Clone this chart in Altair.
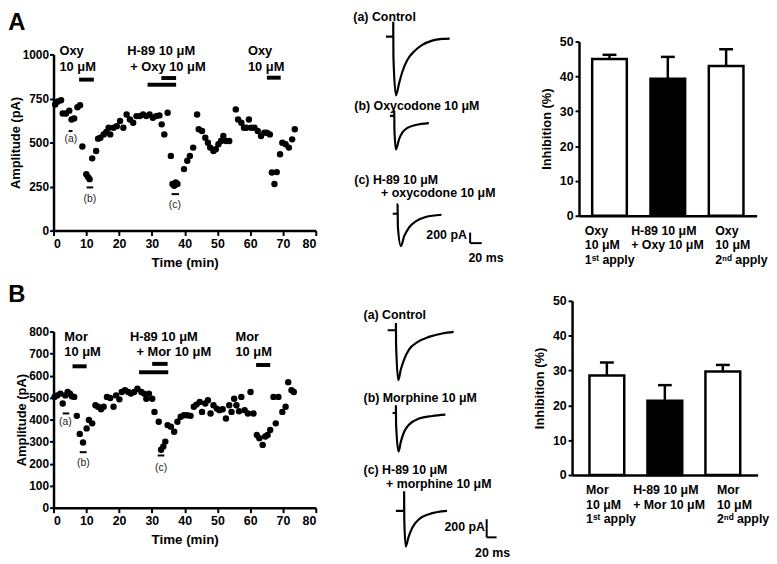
import altair as alt
import pandas as pd

FONT = "Liberation Sans"
W, H = 769, 556

# ---------------- Panel A: time course (oxycodone) ----------------
a_time = [0.5, 1.3, 2.3, 2.8, 3.8, 4.8, 5.5, 6.3, 7.3, 8.1, 8.8, 10.0, 10.5, 11.0, 11.8,
          13.0, 13.6, 14.3, 15.3, 16.1, 16.8, 17.3, 18.3, 19.3, 20.3, 21.3, 22.3, 23.3,
          24.3, 25.3, 26.3, 27.3, 28.3, 29.3, 30.3, 31.3, 32.3, 33.0, 33.8, 34.8, 35.8,
          36.3, 36.8, 37.3, 37.8, 39.8, 40.8, 41.6, 42.6, 43.8, 44.3, 45.3, 46.3, 47.1,
          47.8, 48.8, 49.5, 50.3, 51.1, 51.8, 52.6, 53.6, 55.6, 56.3, 57.3, 58.1, 58.8,
          59.6, 60.3, 61.3, 62.3, 63.3, 64.3, 65.1, 66.0, 66.6, 67.4, 68.1, 69.1, 69.8,
          70.8, 71.8, 72.8, 73.6]
a_amp = [716, 733, 740, 665, 665, 680, 631, 637, 700, 712, 477, 320, 305, 292, 410,
         452, 522, 527, 546, 560, 584, 546, 584, 593, 622, 584, 659, 631,
         612, 650, 650, 659, 650, 659, 640, 650, 654, 603, 546, 669, 424,
         264, 254, 273, 264, 349, 396, 424, 471, 659, 575, 565, 527, 499,
         471, 452, 462, 490, 509, 537, 509, 509, 688, 631, 612, 584, 584,
         631, 584, 584, 565, 537, 556, 556, 546, 330, 264, 332, 433, 499,
         490, 471, 518, 575]
a_note_text = ["Oxy", "10 μM", "H-89 10 μM", "+ Oxy 10 μM", "Oxy", "10 μM"]
a_note_t = [1.8, 1.8, 22.5, 23.4, 59.3, 59.3]
a_note_amp = [1017, 927, 1017, 927, 1017, 927]
a_app_start = [7.8, 28.7, 32.9, 65.1]
a_app_end = [12.3, 37.4, 37.4, 69.3]
a_app_amp = [857, 828, 866, 868]
a_smp_text = ["(a)", "(b)", "(c)"]
a_smp_start = [4.6, 10.1, 36.0]
a_smp_end = [5.8, 12.1, 38.3]
a_smp_amp = [565, 245, 207]
a_smp_label_t = [5.3, 11.1, 37.0]
a_smp_label_amp = [518, 179, 147]

# ---------------- Panel B: time course (morphine) ----------------
b_time = [0.3, 1.1, 2.1, 2.8, 3.6, 4.3, 5.0, 5.6, 6.3, 7.1, 8.0, 9.0, 10.1, 10.8, 11.8,
          12.8, 13.6, 14.5, 15.3, 16.3, 17.3, 18.3, 19.1, 20.1, 20.8, 21.8, 22.8, 23.6,
          24.6, 25.6, 26.8, 27.6, 28.3, 29.1, 30.1, 30.8, 32.1, 32.8, 33.5, 34.1, 34.8,
          35.8, 36.8, 37.8, 38.8, 39.8, 40.8, 41.8, 42.8, 43.6, 44.6, 45.3, 46.3, 47.1,
          47.9, 48.8, 49.8, 50.6, 51.6, 52.6, 53.6, 54.3, 55.1, 55.8, 56.6, 57.3, 58.3,
          59.3, 60.1, 61.0, 62.0, 62.8, 63.8, 64.6, 65.3, 66.1, 67.1, 67.8, 68.6, 69.8,
          70.8, 71.6, 72.6, 73.3]
b_amp = [503, 510, 518, 473, 510, 525, 518, 506, 503, 417, 335, 296, 360, 398, 383,
         465, 458, 447, 458, 503, 498, 458, 510, 492, 525, 533, 525, 518,
         525, 540, 525, 518, 495, 518, 495, 435, 390, 263, 278, 300, 375,
         368, 345, 390, 413, 420, 420, 417, 458, 468, 480, 435, 473, 488,
         428, 465, 450, 443, 447, 405, 465, 435, 495, 465, 438, 503, 443,
         428, 525, 428, 330, 315, 285, 323, 330, 353, 503, 383, 503, 435,
         458, 570, 533, 525]
b_note_text = ["Mor", "10 μM", "H-89 10 μM", "+ Mor 10 μM", "Mor", "10 μM"]
b_note_t = [3.3, 3.3, 23.3, 25.3, 55.5, 55.5]
b_note_amp = [777, 708, 777, 708, 777, 708]
b_app_start = [5.8, 26.1, 30.1, 61.8]
b_app_end = [10.1, 35.0, 34.8, 66.1]
b_app_amp = [642, 615, 653, 648]
b_smp_text = ["(a)", "(b)", "(c)"]
b_smp_start = [2.8, 8.0, 31.8]
b_smp_end = [4.8, 10.1, 33.8]
b_smp_amp = [428, 252, 237]
b_smp_label_t = [3.6, 9.1, 32.8]
b_smp_label_amp = [387, 203, 180]

# ---------------- Example EPSC traces (ms, pA relative to baseline) ----------------
ta_a_ms = [-12.5, 0, 0, 0.3, 4.6, 10.3, 16.0, 24.5, 35.9, 50.1, 67.2, 84.3, 97.4]
ta_a_pa = [0, 0, 280, -380, -1109, -872, -654, -436, -280, -156, -75, -44, -37]
ta_b_ms = [-7.4, 0, 0, 0.3, 2.8, 8.5, 14.2, 22.8, 37.0, 59.8]
ta_b_pa = [0, 0, 93, -250, -636, -436, -312, -230, -174, -137]
ta_c_ms = [-8.5, 0, 0, 0.5, 5.7, 11.4, 19.9, 31.3, 48.4, 75.8]
ta_c_pa = [0, 0, 180, -250, -611, -424, -255, -143, -62, -19]

tb_a_ms = [-16.7, 0, 0, 0.3, 4.7, 10.0, 16.7, 26.7, 43.3, 66.7, 93.3, 116.7]
tb_a_pa = [0, 0, 80, -150, -549, -429, -320, -211, -131, -73, -36, -18]
tb_b_ms = [-6.7, 0, 0, 0.3, 5.3, 10.0, 16.7, 26.7, 46.7, 73.3, 100.0]
tb_b_pa = [0, 0, 84, -120, -425, -316, -207, -127, -62, -33, -18]
tb_c_ms = [-16.7, 0, 0, 0.3, 3.3, 8.7, 16.7, 30.0, 50.0, 86.7]
tb_c_pa = [0, 0, 218, -100, -393, -291, -182, -91, -36, 0]

ta_titles = [["(a) Control"], ["(b) Oxycodone 10 μM"], ["(c) H-89 10 μM", "+ oxycodone 10 μM"]]
ta_title_ms = [[-68.9], [-68.9], [-74.7, -28.5]]
ta_title_pa = [[374], [187], [640, 385]]
tb_titles = [["(a) Control"], ["(b) Morphine 10 μM"], ["(c) H-89 10 μM", "+ morphine 10 μM"]]
tb_title_ms = [[-65.4], [-65.4], [-82.0, -36.6]]
tb_title_pa = [[171], [164], [456, 300]]

bar_pa, bar_ms = 200, 20          # scale bar values
ta_sb_ms, ta_sb_pa = 125.3, -555
tb_sb_ms, tb_sb_pa = 166.8, -291
sb_text = ["200 pA", "20 ms"]
ta_sb_text_ms = [119.7, 122.4]
ta_sb_text_pa = [-405, -828]
tb_sb_text_ms = [163.4, 143.4]
tb_sb_text_pa = [-182, -466]

# ---------------- Bar charts ----------------
a_cats = ["Oxy|10 μM|1ˢᵗ apply", "H-89 10 μM|+ Oxy 10 μM", "Oxy|10 μM|2ⁿᵈ apply"]
a_inh = [45.0, 39.3, 43.0]
a_sem = [1.2, 6.3, 4.8]
b_cats = ["Mor|10 μM|1ˢᵗ apply", "H-89 10 μM|+ Mor 10 μM", "Mor|10 μM|2ⁿᵈ apply"]
b_inh = [28.6, 21.3, 29.7]
b_sem = [3.7, 4.5, 1.9]

# ---------------- layout (pixels in the single view) ----------------
LAY = {
    "scA": {"x": [46, 311], "y": [222, 44]},
    "scB": {"x": [46, 311], "y": [502, 324]},
    "barA": {"x": [577, 756.5], "y": [207, 31], "pi": 0.406, "po": 0.226,
             "off": [-25, -37, -11]},
    "barB": {"x": [570, 757.5], "y": [469, 293], "pi": 0.40, "po": 0.30,
             "off": [-21, -32, -6]},
    "trA": {"pms": 0.585, "ppa": 0.0535, "x0": [389.3, 390.3, 393.7], "base": [26, 106, 205]},
    "trB": {"pms": 0.5, "ppa": 0.0917, "x0": [392, 392, 400.3], "base": [322.7, 406.3, 505.3]},
}

BOLD = dict(font=FONT, fontWeight="bold")


def scatter_panel(lay, time, amp, ymax, ystep, note_text, note_t, note_amp,
                  app_s, app_e, app_amp, smp_text, smp_s, smp_e, smp_amp, smp_lt, smp_la,
                  letter, letter_amp):
    xs = alt.Scale(domain=[0, 80], range=lay["x"], nice=False, zero=False)
    ys = alt.Scale(domain=[0, ymax], range=lay["y"], nice=False, zero=False)
    xax = alt.Axis(
        orient="bottom", offset=lay["y"][0] - H, values=list(range(0, 81, 10)),
        title="Time (min)", titleFontSize=13.5, titlePadding=6, format="d",
        labelFontSize=12.5, tickSize=5, tickWidth=2, domainWidth=2.5, labelPadding=2)
    yax = alt.Axis(
        orient="left", offset=-lay["x"][0], values=list(range(0, ymax + 1, ystep)),
        title="Amplitude (pA)", titleFontSize=13, titlePadding=0, format="d",
        labelFontSize=12, tickSize=4, tickWidth=2, domainWidth=2.5, labelPadding=1)
    X = lambda f: alt.X(f, type="quantitative", scale=xs, axis=xax)
    Y = lambda f: alt.Y(f, type="quantitative", scale=ys, axis=yax)

    pts = alt.Chart(pd.DataFrame({"t": time, "amp": amp})).mark_circle(
        size=42, color="black", opacity=1
    ).encode(x=X("t"), y=Y("amp"))
    apps = alt.Chart(pd.DataFrame({"t": app_s, "t2": app_e, "amp": app_amp})).mark_rule(
        strokeWidth=4, color="black", strokeCap="butt"
    ).encode(x=X("t"), x2="t2", y=Y("amp"))
    notes = alt.Chart(pd.DataFrame({"t": note_t, "amp": note_amp, "label": note_text})).mark_text(
        align="left", baseline="middle", fontSize=13, color="black", **BOLD
    ).encode(x=X("t"), y=Y("amp"), text="label:N")
    smps = alt.Chart(pd.DataFrame({"t": smp_s, "t2": smp_e, "amp": smp_amp})).mark_rule(
        strokeWidth=2, color="black"
    ).encode(x=X("t"), x2="t2", y=Y("amp"))
    smp_lbl = alt.Chart(pd.DataFrame({"t": smp_lt, "amp": smp_la, "label": smp_text})).mark_text(
        align="center", baseline="middle", fontSize=10.5, color="#222", font=FONT
    ).encode(x=X("t"), y=Y("amp"), text="label:N")
    let = alt.Chart(pd.DataFrame({"t": [-13.8], "amp": [letter_amp], "label": [letter]})).mark_text(
        align="left", baseline="middle", fontSize=24, color="black", **BOLD
    ).encode(x=X("t"), y=Y("amp"), text="label:N")
    return alt.layer(pts, apps, notes, smps, smp_lbl, let)


def trace_panel(lay, i, ms, pa, titles, t_ms, t_pa, scalebar=None):
    pms, ppa = lay["pms"], lay["ppa"]
    x0, base = lay["x0"][i], lay["base"][i]
    xd, yd = [-100, 200], [-1500, 700]
    xs = alt.Scale(domain=xd, range=[x0 + xd[0] * pms, x0 + xd[1] * pms], nice=False, zero=False)
    ys = alt.Scale(domain=yd, range=[base - yd[0] * ppa, base - yd[1] * ppa], nice=False, zero=False)
    X = lambda f: alt.X(f, type="quantitative", scale=xs, axis=None)
    Y = lambda f: alt.Y(f, type="quantitative", scale=ys, axis=None)
    line = alt.Chart(pd.DataFrame({"ms": ms, "pA": pa, "i": list(range(len(ms)))})).mark_line(
        color="black", strokeWidth=2.2, interpolate="monotone"
    ).encode(x=X("ms"), y=Y("pA"), order="i:Q")
    txt = alt.Chart(pd.DataFrame({"ms": t_ms, "pA": t_pa, "label": titles})).mark_text(
        align="left", baseline="middle", fontSize=12.5, color="black", **BOLD
    ).encode(x=X("ms"), y=Y("pA"), text="label:N")
    layers = [line, txt]
    if scalebar is not None:
        sb_ms, sb_pa, sb_txt, sb_text_ms, sb_text_pa = scalebar
        vert = alt.Chart(pd.DataFrame({"ms": [sb_ms], "pA": [sb_pa], "pA2": [sb_pa + bar_pa]})).mark_rule(
            strokeWidth=2, color="black").encode(x=X("ms"), y=Y("pA"), y2="pA2")
        horiz = alt.Chart(pd.DataFrame({"ms": [sb_ms], "ms2": [sb_ms + bar_ms], "pA": [sb_pa]})).mark_rule(
            strokeWidth=2, color="black").encode(x=X("ms"), x2="ms2", y=Y("pA"))
        t1 = alt.Chart(pd.DataFrame({"ms": [sb_text_ms[0]], "pA": [sb_text_pa[0]], "label": [sb_txt[0]]})).mark_text(
            align="right", baseline="middle", fontSize=12.5, color="black", **BOLD
        ).encode(x=X("ms"), y=Y("pA"), text="label:N")
        t2 = alt.Chart(pd.DataFrame({"ms": [sb_text_ms[1]], "pA": [sb_text_pa[1]], "label": [sb_txt[1]]})).mark_text(
            align="left", baseline="middle", fontSize=12.5, color="black", **BOLD
        ).encode(x=X("ms"), y=Y("pA"), text="label:N")
        layers += [vert, horiz, t1, t2]
    return alt.layer(*layers)


def bar_panel(lay, cats, inh, sem):
    df = pd.DataFrame({"cat": cats, "inh": inh, "top": [v + s for v, s in zip(inh, sem)]})
    xs = alt.Scale(domain=cats, range=lay["x"], paddingInner=lay["pi"], paddingOuter=lay["po"])
    ys = alt.Scale(domain=[0, 50], range=lay["y"], nice=False, zero=True)
    cond = [{"test": f"datum.value === '{c}'", "value": o} for c, o in zip(cats[1:], lay["off"][1:])]
    xax = alt.Axis(
        orient="bottom", offset=lay["y"][0] - H, title=None, ticks=False,
        labelExpr="split(datum.label, '|')", labelAngle=0, labelAlign="left",
        labelBaseline="top", labelPadding=9, labelLineHeight=14.5, labelFontSize=12.5,
        labelOffset={"condition": cond, "value": lay["off"][0]},
        domainWidth=2.5)
    yax = alt.Axis(
        orient="left", offset=-lay["x"][0], values=list(range(0, 51, 10)),
        title="Inhibition (%)", titleFontSize=13, titlePadding=6,
        labelFontSize=12.5, tickSize=4, tickWidth=2, domainWidth=2.5, labelPadding=2)
    X = alt.X("cat:N", scale=xs, sort=cats, axis=xax)
    bars = alt.Chart(df).mark_bar(stroke="black", strokeWidth=2.5).encode(
        x=X,
        y=alt.Y("inh:Q", scale=ys, axis=yax),
        fill=alt.condition("indexof(datum.cat, 'H-89') >= 0", alt.value("black"), alt.value("white")),
    )
    err = alt.Chart(df).mark_rule(strokeWidth=2.5, color="black").encode(
        x=X, y=alt.Y("inh:Q", scale=ys, axis=yax), y2="top")
    cap = alt.Chart(df).mark_tick(thickness=2.5, size=14, color="black", opacity=1).encode(
        x=X, y=alt.Y("top:Q", scale=ys, axis=yax))
    return alt.layer(err, cap, bars)


panels = [
    scatter_panel(LAY["scA"], a_time, a_amp, 1000, 250, a_note_text, a_note_t, a_note_amp,
                  a_app_start, a_app_end, a_app_amp, a_smp_text, a_smp_start, a_smp_end,
                  a_smp_amp, a_smp_label_t, a_smp_label_amp, "A", 1176),
    scatter_panel(LAY["scB"], b_time, b_amp, 800, 100, b_note_text, b_note_t, b_note_amp,
                  b_app_start, b_app_end, b_app_amp, b_smp_text, b_smp_start, b_smp_end,
                  b_smp_amp, b_smp_label_t, b_smp_label_amp, "B", 966),
    trace_panel(LAY["trA"], 0, ta_a_ms, ta_a_pa, ta_titles[0], ta_title_ms[0], ta_title_pa[0]),
    trace_panel(LAY["trA"], 1, ta_b_ms, ta_b_pa, ta_titles[1], ta_title_ms[1], ta_title_pa[1]),
    trace_panel(LAY["trA"], 2, ta_c_ms, ta_c_pa, ta_titles[2], ta_title_ms[2], ta_title_pa[2],
                (ta_sb_ms, ta_sb_pa, sb_text, ta_sb_text_ms, ta_sb_text_pa)),
    trace_panel(LAY["trB"], 0, tb_a_ms, tb_a_pa, tb_titles[0], tb_title_ms[0], tb_title_pa[0]),
    trace_panel(LAY["trB"], 1, tb_b_ms, tb_b_pa, tb_titles[1], tb_title_ms[1], tb_title_pa[1]),
    trace_panel(LAY["trB"], 2, tb_c_ms, tb_c_pa, tb_titles[2], tb_title_ms[2], tb_title_pa[2],
                (tb_sb_ms, tb_sb_pa, sb_text, tb_sb_text_ms, tb_sb_text_pa)),
    bar_panel(LAY["barA"], a_cats, a_inh, a_sem),
    bar_panel(LAY["barB"], b_cats, b_inh, b_sem),
]

chart = alt.layer(*panels).resolve_scale(x="independent", y="independent").properties(
    width=W, height=H, autosize=alt.AutoSizeParams(type="none"), padding=0
).configure_view(stroke=None).configure_axis(
    grid=False, domainColor="black", tickColor="black", labelColor="black", titleColor="black",
    labelFont=FONT, titleFont=FONT, labelFontWeight="bold", titleFontWeight="bold"
).configure_text(font=FONT)

chart.save("out.html", embed_options={"renderer": "svg", "actions": False})
